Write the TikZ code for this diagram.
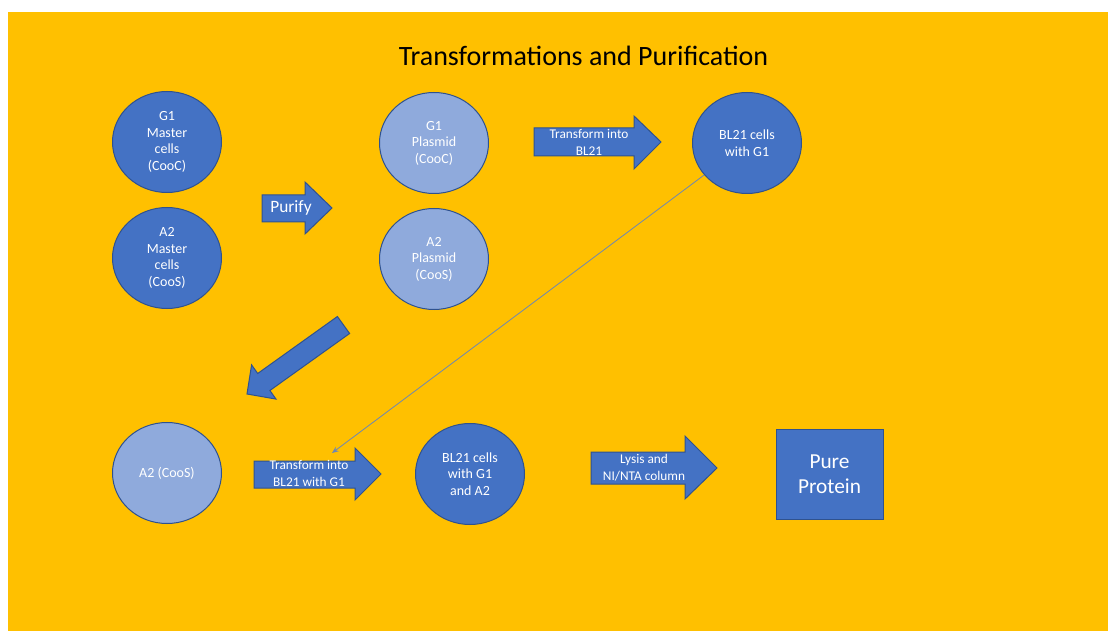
\documentclass[tikz,border=0pt]{standalone}
\usepackage{fontspec}
\setmainfont{Carlito}
\usetikzlibrary{shapes.geometric,arrows.meta}
\definecolor{bg}{HTML}{FFC000}
\definecolor{dkblue}{HTML}{4472C4}
\definecolor{ltblue}{HTML}{8FAADC}
\definecolor{edgeblue}{HTML}{2F528F}
\definecolor{thinline}{HTML}{6D87B5}
\tikzset{
  cellA/.style={ellipse, draw=edgeblue, line width=0.75pt, fill=dkblue, text=white,
    minimum width=81.75pt, minimum height=75.75pt, inner sep=0pt, align=center,
    font=\fontsize{10.5}{12.4}\selectfont},
  plasmid/.style={cellA, fill=ltblue},
  boxA/.style={rectangle, draw=edgeblue, line width=0.75pt, fill=dkblue, text=white,
    minimum width=80.25pt, minimum height=67.5pt, inner sep=0pt, align=center,
    font=\fontsize{16}{18.5}\selectfont},
  arrowshape/.style={draw=edgeblue, fill=dkblue, line width=0.75pt, line join=miter},
  arrowtext/.style={text=white, align=center, inner sep=0pt, font=\fontsize{10}{12.75}\selectfont},
  connector/.style={draw=thinline, line width=0.6pt, -{Stealth[length=5pt,width=4pt]}}
}
\begin{document}
\begin{tikzpicture}[x=0.75pt,y=-0.75pt]
\useasboundingbox (0,0) rectangle (1108,631);
\fill[bg] (8,12) rectangle (1108,631);

\node[font=\fontsize{21}{25}\selectfont] (title) at (583.5,56) {Transformations and Purification};

\node[cellA] (g1m) at (167,142) {G1\\Master\\cells\\(CooC)};
\node[cellA] (a2m) at (167,258) {A2\\Master\\cells\\(CooS)};
\node[plasmid] (g1p) at (434,143) {G1\\Plasmid\\(CooC)};
\node[plasmid] (a2p) at (434,259) {A2\\Plasmid\\(CooS)};
\node[cellA] (bl21g1) at (747,143) {BL21 cells\\with G1};
\node[plasmid] (a2) at (167,473) {A2 (CooS)};
\node[cellA] (bl21g1a2) at (470,474) {BL21 cells\\with G1\\and A2};
\node[boxA] (pure) at (829.5,474) {Pure\\Protein};

% Purify arrow
\draw[arrowshape] (262,195) -- (305,195) -- (305,182) -- (332,208) -- (305,234) -- (305,222) -- (262,222) -- cycle;
\node[arrowtext, font=\fontsize{13}{15}\selectfont] (purify) at (291,208) {Purify};

% Transform into BL21 arrow
\draw[arrowshape] (534,128) -- (634,128) -- (634,116) -- (661,142) -- (634,169) -- (634,156) -- (534,156) -- cycle;
\node[arrowtext] (trans1) at (589,142) {Transform into\\BL21};

% diagonal arrow
\draw[arrowshape] (337.4,316.5) -- (257.7,373.5) -- (251.6,364.9) -- (247,394) -- (276,399.1) -- (269.9,390.5) -- (349.6,333.5) -- cycle;

% Transform into BL21 with G1 arrow
\draw[arrowshape] (254,461) -- (355,461) -- (355,448) -- (381,474) -- (355,500) -- (355,488) -- (254,488) -- cycle;
\node[arrowtext] (trans2) at (309,473.5) {Transform into\\BL21 with G1};

% Lysis arrow
\draw[arrowshape] (591,452) -- (685,452) -- (685,436) -- (717,468) -- (685,499) -- (685,484) -- (591,484) -- cycle;
\node[arrowtext] (lysis) at (644,468) {Lysis and\\NI/NTA column};

% thin connector
\coordinate (tipc) at (332,453);
\draw[connector] (bl21g1) -- (tipc);
\end{tikzpicture}
\end{document}
